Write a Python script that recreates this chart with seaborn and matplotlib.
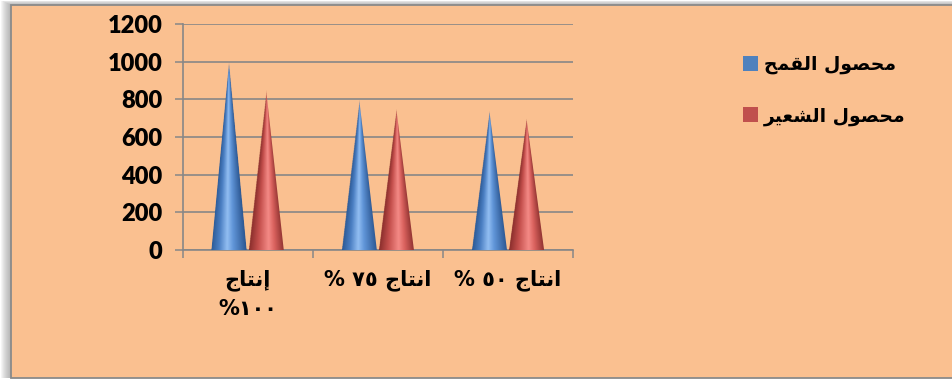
import numpy as np
import pandas as pd
import matplotlib
matplotlib.use("Agg")
import matplotlib.pyplot as plt
import seaborn as sns
from matplotlib.patches import Polygon, Rectangle, Patch
from matplotlib.colors import LinearSegmentedColormap

# ---- data -------------------------------------------------------------
categories = ["إنتاج\n١٠٠%", "انتاج ٧٥ %", "انتاج ٥٠ %"]
series = ["محصول القمح", "محصول الشعير"]
wheat = [1000, 800, 740]
barley = [850, 750, 700]
y_ticks = [0, 200, 400, 600, 800, 1000, 1200]

# ---- minimal Arabic shaping (presentation forms + visual order) --------
FORMS = {
    "\u0627": ("\uFE8D", "\uFE8E", None, None),
    "\u0625": ("\uFE87", "\uFE88", None, None),
    "\u062A": ("\uFE95", "\uFE96", "\uFE97", "\uFE98"),
    "\u062C": ("\uFE9D", "\uFE9E", "\uFE9F", "\uFEA0"),
    "\u062D": ("\uFEA1", "\uFEA2", "\uFEA3", "\uFEA4"),
    "\u0631": ("\uFEAD", "\uFEAE", None, None),
    "\u0634": ("\uFEB5", "\uFEB6", "\uFEB7", "\uFEB8"),
    "\u0635": ("\uFEB9", "\uFEBA", "\uFEBB", "\uFEBC"),
    "\u0639": ("\uFEC9", "\uFECA", "\uFECB", "\uFECC"),
    "\u0642": ("\uFED5", "\uFED6", "\uFED7", "\uFED8"),
    "\u0644": ("\uFEDD", "\uFEDE", "\uFEDF", "\uFEE0"),
    "\u0645": ("\uFEE1", "\uFEE2", "\uFEE3", "\uFEE4"),
    "\u0646": ("\uFEE5", "\uFEE6", "\uFEE7", "\uFEE8"),
    "\u0648": ("\uFEED", "\uFEEE", None, None),
    "\u064A": ("\uFEF1", "\uFEF2", "\uFEF3", "\uFEF4"),
}


def shape_word(word):
    out = []
    for i, ch in enumerate(word):
        f = FORMS.get(ch)
        if f is None:
            out.append(ch)
            continue
        prev = word[i - 1] if i > 0 else None
        nxt = word[i + 1] if i + 1 < len(word) else None
        jp = prev in FORMS and FORMS[prev][2] is not None
        jn = f[2] is not None and nxt in FORMS
        out.append(f[3] if (jp and jn) else f[1] if jp else f[2] if jn else f[0])
    return "".join(reversed(out))


def shape_token(tok):
    if any(c in FORMS for c in tok):
        return shape_word(tok)
    runs, cur = [], ""
    for c in tok:
        if cur and (c.isdigit() != cur[-1].isdigit()):
            runs.append(cur)
            cur = ""
        cur += c
    if cur:
        runs.append(cur)
    return "".join(reversed(runs))


def visual(text):
    lines = []
    for line in text.split("\n"):
        lines.append(" ".join(shape_token(t) for t in reversed(line.split(" "))))
    return "\n".join(lines)


# ---- style ------------------------------------------------------------
sns.set_theme(style="white")
plt.rcParams["font.family"] = ["DejaVu Sans"]
plt.rcParams["text.color"] = "black"

BG = "#FAC090"
GRID = "#878787"
BLUE = "#4F81BD"
RED = "#C0504D"
W, H = 952, 379

fig = plt.figure(figsize=(W / 100, H / 100), dpi=100, facecolor="white")

# chart area with a soft shadow on the upper-left side
x0, ytop, ybot = 11, 5, 378
for k in range(10, 0, -1):
    fig.patches.append(Rectangle(((x0 - k) / W, (H - ybot) / H), 2,
                                 (ybot - ytop + k * 0.45) / H,
                                 transform=fig.transFigure, facecolor="#7a7a7a",
                                 edgecolor="none", alpha=0.07, zorder=-5))
fig.patches.append(Rectangle((x0 / W, (H - ybot) / H), 2, (ybot - ytop) / H,
                             transform=fig.transFigure, facecolor=BG,
                             edgecolor="#8a8a8a", linewidth=1.3, zorder=-4))

ax = fig.add_axes([182.5 / W, 1 - 250 / H, (573 - 182.5) / W, (250 - 24) / H])
ax.set_facecolor("none")

df = pd.DataFrame({
    "category": categories * 2,
    "series": [series[0]] * 3 + [series[1]] * 3,
    "value": wheat + barley,
})
sns.barplot(data=df, x="category", y="value", hue="series", palette=[BLUE, RED],
            width=0.57, gap=0.05, saturation=1, legend=False, ax=ax)

cmaps = {
    "blue": LinearSegmentedColormap.from_list("cone_b", [
        (0.0, "#2C5A96"), (0.22, "#4B7FC3"), (0.45, "#92BEF2"),
        (0.62, "#6196D9"), (1.0, "#2A5590")]),
    "red": LinearSegmentedColormap.from_list("cone_r", [
        (0.0, "#8A2E2C"), (0.25, "#C44F4C"), (0.55, "#F48A86"),
        (0.72, "#DA625E"), (1.0, "#8C302E")]),
}

ny, nx = 300, 120
u = (np.arange(nx) + 0.5) / nx
v = (np.arange(ny) + 0.5) / ny
U, V = np.meshgrid(u, v)
half = 0.5 * (1 - V)
T = np.where(half > 0, (U - 0.5) / np.maximum(half, 1e-6), 2)
inside = np.abs(T) <= 1.0

for patch in list(ax.patches):
    bx, bw, bh = patch.get_x(), patch.get_width(), patch.get_height()
    fc = patch.get_facecolor()
    patch.set_visible(False)
    if bh <= 0:
        continue
    key = "blue" if fc[2] > fc[0] else "red"
    rgba = cmaps[key]((np.clip(T, -1, 1) + 1) / 2)
    rgba[..., 3] = np.where(inside, 1.0, 0.0)
    tri = Polygon([(bx, 0), (bx + bw, 0), (bx + bw / 2, bh)], closed=True,
                  facecolor="none", edgecolor="none", transform=ax.transData)
    ax.add_patch(tri)
    im = ax.imshow(rgba, extent=[bx, bx + bw, 0, bh], origin="lower",
                   aspect="auto", interpolation="bilinear", zorder=3)
    im.set_clip_path(tri)

ax.set_xlim(-0.5, 2.5)
ax.set_ylim(0, 1200)
ax.set_yticks(y_ticks)
ax.set_yticklabels([str(t) for t in y_ticks], fontfamily="Lato",
                   fontweight="heavy", fontsize=17)
ax.set_xticks(range(len(categories)))
ax.set_xticklabels([visual(c) for c in categories], fontfamily="DejaVu Sans",
                   fontweight="bold", fontsize=15, linespacing=1.5)
ax.set_xticks([-0.5, 0.5, 1.5, 2.5], minor=True)
ax.set_xlabel("")
ax.set_ylabel("")

ax.grid(axis="y", color=GRID, linewidth=1.2)
ax.set_axisbelow(True)
for side in ("top", "right"):
    ax.spines[side].set_visible(False)
for side in ("left", "bottom"):
    ax.spines[side].set_color(GRID)
    ax.spines[side].set_linewidth(1.2)
ax.tick_params(axis="y", length=5.5, width=1.1, color=GRID, pad=9,
               labelcolor="black", left=True)
ax.tick_params(axis="x", which="major", length=0, pad=14, labelcolor="black")
ax.tick_params(axis="x", which="minor", length=5.5, width=1.1, color=GRID,
               bottom=True)

handles = [Patch(facecolor=BLUE, edgecolor="none"),
           Patch(facecolor=RED, edgecolor="none")]
fig.legend(handles, [visual(s) for s in series], loc="upper left",
           bbox_to_anchor=(743 / W, 1 - 55 / H), bbox_transform=fig.transFigure,
           frameon=False,
           prop={"family": "DejaVu Sans", "weight": "bold", "size": 13.5},
           handlelength=0.82, handleheight=0.82, handletextpad=0.3,
           labelspacing=1.7, borderpad=0, borderaxespad=0)

fig.savefig("out.png", dpi=100, facecolor="white")
